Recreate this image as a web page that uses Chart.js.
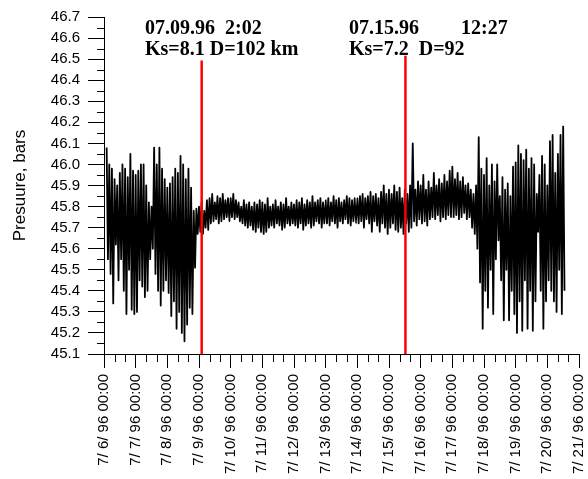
<!DOCTYPE html>
<html>
<head>
<meta charset="utf-8">
<script src="https://cdn.jsdelivr.net/npm/chart.js@4.4.0/dist/chart.umd.min.js"></script>
<style>
  html, body { margin: 0; padding: 0; background: #fff; }
</style>
</head>
<body>
<canvas id="chart" width="588" height="479"></canvas>
<script>
// x is in days since 7/6/96 00:00; one high/low pair every 2 hours from 7/6 02:00
const startDay = 2 / 24;
const pairStep = 2 / 24;

const tickLabels = [
    '7/ 6/ 96 00:00', '7/ 7/ 96 00:00', '7/ 8/ 96 00:00', '7/ 9/ 96 00:00',
    '7/ 10/ 96 00:00', '7/ 11/ 96 00:00', '7/ 12/ 96 00:00', '7/ 13/ 96 00:00',
    '7/ 14/ 96 00:00', '7/ 15/ 96 00:00', '7/ 16/ 96 00:00', '7/ 17/ 96 00:00',
    '7/ 18/ 96 00:00', '7/ 19/ 96 00:00', '7/ 20/ 96 00:00', '7/ 21/ 96 00:00'
];

// upper swing of each 2-hour pair
const hiVals = [
    // 7/6
    46.08, 46.00, 45.98, 45.93, 45.90, 45.96, 46.00, 45.98, 45.94, 46.05, 45.97,
    // 7/7
    45.95, 45.97, 46.00, 46.00, 45.90, 45.82, 45.80, 46.08, 46.00, 46.08, 45.98, 45.93,
    // 7/8
    45.89, 45.91, 45.94, 45.98, 45.96, 46.04, 46.00, 45.93, 45.98, 45.89, 45.78, 45.79,
    // 7/9
    45.80, 45.82, 45.78, 45.83, 45.84, 45.86, 45.82, 45.85, 45.84, 45.86, 45.83, 45.84,
    // 7/10
    45.84, 45.86, 45.83, 45.82, 45.80, 45.83, 45.81, 45.82, 45.80, 45.82, 45.81, 45.83,
    // 7/11
    45.82, 45.81, 45.84, 45.80, 45.81, 45.83, 45.80, 45.82, 45.81, 45.84, 45.80, 45.82,
    // 7/12
    45.81, 45.83, 45.82, 45.84, 45.81, 45.83, 45.82, 45.85, 45.82, 45.83, 45.84, 45.82,
    // 7/13
    45.83, 45.84, 45.82, 45.85, 45.83, 45.84, 45.82, 45.83, 45.85, 45.84, 45.83, 45.84,
    // 7/14
    45.84, 45.85, 45.86, 45.84, 45.85, 45.87, 45.85, 45.86, 45.84, 45.87, 45.90, 45.86,
    // 7/15
    45.88, 45.86, 45.90, 45.87, 45.89, 45.84, 45.88, 45.86, 45.90, 46.10, 45.88, 45.92,
    // 7/16
    45.90, 45.95, 45.88, 45.92, 45.89, 45.96, 45.90, 45.93, 45.91, 45.95, 45.92, 45.97,
    // 7/17
    45.99, 45.93, 45.96, 45.92, 45.94, 45.90, 45.91, 45.88, 45.86, 45.90, 46.13, 45.98,
    // 7/18
    45.95, 46.03, 45.90, 46.00, 45.92, 46.00, 45.85, 45.94, 45.88, 45.91, 45.85, 45.99,
    // 7/19
    46.01, 46.09, 46.05, 46.02, 46.07, 45.98, 46.03, 46.00, 45.86, 45.95, 46.04, 46.00,
    // 7/20
    45.90, 46.11, 46.14, 45.96, 46.05, 46.14, 46.18
];

// lower swing of each 2-hour pair
const loVals = [
    // 7/6
    45.55, 45.48, 45.34, 45.62, 45.45, 45.55, 45.40, 45.29, 45.50, 45.31, 45.29,
    // 7/7
    45.30, 45.45, 45.42, 45.37, 45.40, 45.55, 45.60, 45.48, 45.40, 45.33, 45.40, 45.45,
    // 7/8
    45.39, 45.28, 45.35, 45.22, 45.30, 45.20, 45.16, 45.24, 45.32, 45.29, 45.51, 45.67,
    // 7/9
    45.68, 45.67, 45.70, 45.69, 45.72, 45.73, 45.74, 45.72, 45.73, 45.74, 45.75, 45.73,
    // 7/10
    45.75, 45.74, 45.75, 45.73, 45.72, 45.71, 45.70, 45.71, 45.69, 45.68, 45.70, 45.68,
    // 7/11
    45.67, 45.68, 45.70, 45.71, 45.70, 45.72, 45.71, 45.69, 45.70, 45.72, 45.71, 45.72,
    // 7/12
    45.71, 45.70, 45.72, 45.69, 45.71, 45.72, 45.70, 45.71, 45.73, 45.72, 45.70, 45.72,
    // 7/13
    45.72, 45.71, 45.73, 45.72, 45.70, 45.73, 45.72, 45.74, 45.72, 45.71, 45.73, 45.72,
    // 7/14
    45.72, 45.73, 45.70, 45.74, 45.72, 45.68, 45.73, 45.71, 45.68, 45.72, 45.70, 45.67,
    // 7/15
    45.70, 45.72, 45.69, 45.68, 45.70, 45.67, 45.72, 45.68, 45.70, 45.73, 45.71, 45.74,
    // 7/16
    45.72, 45.73, 45.71, 45.74, 45.75, 45.74, 45.76, 45.73, 45.75, 45.74, 45.76, 45.75,
    // 7/17
    45.75, 45.76, 45.74, 45.75, 45.77, 45.74, 45.75, 45.70, 45.67, 45.60, 45.44, 45.22,
    // 7/18
    45.40, 45.32, 45.50, 45.29, 45.55, 45.64, 45.45, 45.26, 45.50, 45.26, 45.40, 45.29,
    // 7/19
    45.20, 45.35, 45.21, 45.45, 45.22, 45.40, 45.21, 45.35, 45.68, 45.40, 45.22, 45.35,
    // 7/20
    45.45, 45.40, 45.35, 45.30, 45.50, 45.29, 45.40
];

// earthquakes: 07.09.96 2:02 and 07.15.96 12:27
const eventDays = [3 + 2.033 / 24, 9 + 12.45 / 24];
const eventTops = [46.493, 46.516];
const eventText = [
    ['07.09.96', '2:02', 'Ks=8.1 D=102 km'],
    ['07.15.96', '12:27', 'Ks=7.2  D=92']
];

const pressurePoints = [];
hiVals.forEach((hi, i) => {
    pressurePoints.push({ x: startDay + i * pairStep, y: hi });
    pressurePoints.push({ x: startDay + (i + 0.5) * pairStep, y: loVals[i] });
});

const eventSets = eventDays.map((d, i) => ({
    data: [{ x: d, y: 45.1 }, { x: d, y: eventTops[i] }],
    borderColor: '#ff0000',
    borderWidth: 2.5,
    pointRadius: 0
}));

// minor ticks + annotation text
const extras = {
    id: 'extras',
    afterDraw(chart) {
        const ctx = chart.ctx;
        const xs = chart.scales.x, ys = chart.scales.y;
        ctx.save();
        ctx.strokeStyle = '#000';
        ctx.lineWidth = 1;
        ctx.beginPath();
        for (let k = 0; k < 16; k++) {
            const py = Math.round(ys.getPixelForValue(45.15 + k * 0.1)) + 0.5;
            ctx.moveTo(xs.left - 7, py);
            ctx.lineTo(xs.left, py);
        }
        for (let d = 0; d < 15; d++) {
            for (let m = 1; m <= 2; m++) {
                const px = Math.round(xs.getPixelForValue(d + m / 3)) + 0.5;
                ctx.moveTo(px, ys.bottom);
                ctx.lineTo(px, ys.bottom + 8);
            }
        }
        ctx.stroke();

        ctx.fillStyle = '#000';
        ctx.font = 'bold 20px "Liberation Serif", "Times New Roman", serif';
        ctx.textBaseline = 'alphabetic';
        ctx.fillText(eventText[0][0], 145, 34);
        ctx.fillText(eventText[0][1], 225, 34);
        ctx.fillText(eventText[0][2], 145, 55);
        ctx.fillText(eventText[1][0], 349, 34);
        ctx.fillText(eventText[1][1], 461, 34);
        ctx.fillText(eventText[1][2], 349, 55);
        ctx.restore();
    }
};

const tickFont = { family: '"Liberation Sans", Arial, sans-serif', size: 15 };

new Chart(document.getElementById('chart'), {
    type: 'line',
    data: {
        datasets: [
            ...eventSets,
            {
                data: pressurePoints,
                borderColor: '#000',
                borderWidth: 1.8,
                borderJoinStyle: 'round',
                pointRadius: 0,
                // tiny tension keeps every swing (skips the per-pixel fast path)
                tension: 0.0001
            }
        ]
    },
    options: {
        responsive: false,
        animation: false,
        layout: { padding: { top: 14, right: 9, left: 0, bottom: 0 } },
        plugins: {
            legend: { display: false },
            tooltip: { enabled: false }
        },
        scales: {
            x: {
                type: 'linear',
                min: 0,
                max: 15,
                border: { color: '#000', width: 1 },
                grid: { drawOnChartArea: false, drawTicks: true, tickLength: 14, tickColor: '#000' },
                ticks: {
                    stepSize: 1,
                    autoSkip: false,
                    maxRotation: 90,
                    minRotation: 90,
                    padding: 6,
                    color: '#000',
                    font: tickFont,
                    callback: v => tickLabels[Math.round(v)]
                },
                afterFit: s => {
                    s.height = 125;
                    s.paddingLeft = 0;
                    s.paddingRight = 0;
                }
            },
            y: {
                min: 45.1,
                max: 46.7,
                border: { color: '#000', width: 1 },
                grid: { drawOnChartArea: false, drawTicks: true, tickLength: 16, tickColor: '#000' },
                ticks: {
                    stepSize: 0.1,
                    padding: 8,
                    color: '#000',
                    font: tickFont,
                    callback: v => Number(v).toFixed(1)
                },
                title: {
                    display: true,
                    text: 'Presuure, bars',
                    color: '#000',
                    font: { family: '"Liberation Sans", Arial, sans-serif', size: 17 },
                    padding: { top: 10, bottom: 0 }
                },
                afterFit: s => { s.width = 104; }
            }
        }
    },
    plugins: [extras]
});
</script>
</body>
</html>
